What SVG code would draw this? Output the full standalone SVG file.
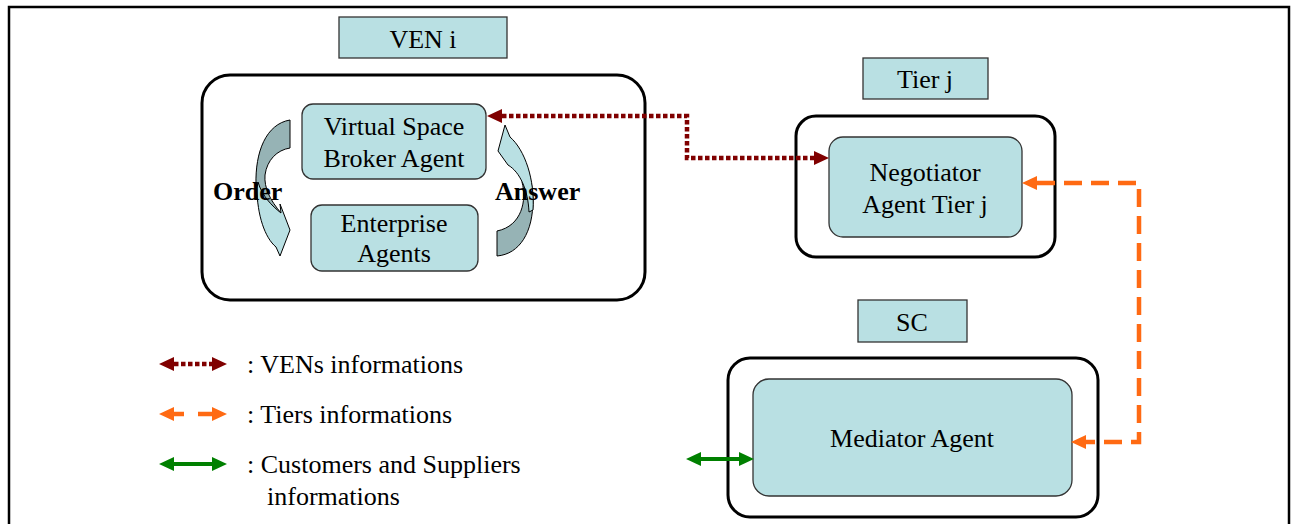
<svg xmlns="http://www.w3.org/2000/svg" width="1292" height="524" viewBox="0 0 1292 524">
<style>
text{font-family:"Liberation Serif","Times New Roman",serif;font-size:26px;fill:#000}
.c{text-anchor:middle}
.b{font-weight:bold}
.cont{fill:#fff;stroke:#000;stroke-width:3}
.box{fill:#b9e0e3;stroke:#333;stroke-width:1.3}
.lbl{fill:#b9e0e3;stroke:#333;stroke-width:1.3}
.dark{fill:#96b3b5;stroke:#000;stroke-width:1}
.light{fill:#b9e0e3;stroke:#000;stroke-width:1}
.ven{fill:none;stroke:#800000;stroke-width:4.5;stroke-dasharray:4.5 2.5}
.tier{fill:none;stroke:#ff6a13;stroke-width:4.5;stroke-dasharray:18 9}
.cs{fill:none;stroke:#008000;stroke-width:4}
</style>
<defs>
<marker id="mR" viewBox="0 0 15 14" refX="0" refY="7" markerWidth="15" markerHeight="14" markerUnits="userSpaceOnUse" orient="auto-start-reverse"><path d="M0,0 L15,7 L0,14 Z" fill="#800000"/></marker>
<marker id="mO" viewBox="0 0 15 14" refX="0" refY="7" markerWidth="15" markerHeight="14" markerUnits="userSpaceOnUse" orient="auto-start-reverse"><path d="M0,0 L15,7 L0,14 Z" fill="#ff6a13"/></marker>
<marker id="mG" viewBox="0 0 15 14" refX="0" refY="7" markerWidth="15" markerHeight="14" markerUnits="userSpaceOnUse" orient="auto-start-reverse"><path d="M0,0 L15,7 L0,14 Z" fill="#008000"/></marker>
</defs>
<rect x="0" y="0" width="1292" height="524" fill="#fff"/>
<rect x="9" y="7" width="1280" height="530" fill="none" stroke="#000" stroke-width="2.5"/>

<g id="ven-label"><rect class="lbl" x="339" y="17" width="168" height="41"/><text class="c" x="423" y="48">VEN i</text></g>
<g id="ven-container"><rect class="cont" x="202" y="75" width="443" height="225" rx="28"/></g>
<g id="order-arrow">
<path class="dark" d="M290,120 C266,124 255,152 256,185 C257,205 262,220 272,232 L281,213 C270,200 264,188 265,175 C267,160 277,150 290,148 Z"/>
<path class="light" d="M257,188 C257,215 265,238 276,247 L280,256 L290,230 L280,204 L281,213 C272,206 262,196 258,182 Z"/>
</g>
<g id="answer-arrow">
<path class="dark" d="M497,256 C520,254 533,232 533,200 C533,190 531,180 528,172 L522,182 C527,200 522,226 497,231 Z"/>
<path class="light" d="M533,210 C535,180 525,150 510,137 L505,125 L498,151 L508,165 C520,172 528,190 529,212 Z"/>
</g>
<g id="vsb"><rect class="box" x="302" y="104" width="184" height="75" rx="11"/><text class="c" x="394" y="135">Virtual Space</text><text class="c" x="394" y="167">Broker Agent</text></g>
<g id="enterprise"><rect class="box" x="311" y="205" width="167" height="66" rx="11"/><text class="c" x="394" y="232">Enterprise</text><text class="c" x="394" y="262">Agents</text></g>
<text class="b" x="213" y="200">Order</text>
<text class="b" x="495" y="200">Answer</text>

<g id="tier-label"><rect class="lbl" x="863" y="58" width="125" height="41"/><text class="c" x="925" y="88">Tier j</text></g>
<g id="tier-container"><rect class="cont" x="796" y="116" width="259" height="141" rx="20"/></g>
<g id="negotiator"><rect class="box" x="829" y="137" width="193" height="100" rx="14"/><text class="c" x="925" y="181">Negotiator</text><text class="c" x="925" y="213">Agent Tier j</text></g>

<g id="sc-label"><rect class="lbl" x="858" y="300" width="109" height="42"/><text class="c" x="912" y="331">SC</text></g>
<g id="sc-container"><rect class="cont" x="728" y="358" width="370" height="159" rx="22"/></g>
<g id="mediator"><rect class="box" x="753" y="379" width="319" height="117" rx="16"/><text class="c" x="912" y="447">Mediator Agent</text></g>

<g id="connectors">
<path class="ven" d="M502,116 H687 V158 H814" marker-start="url(#mR)" marker-end="url(#mR)"/>
<path class="tier" d="M1037,183 H1139 V442 H1086" marker-start="url(#mO)" marker-end="url(#mO)"/>
<path class="cs" d="M701,459 H739" marker-start="url(#mG)" marker-end="url(#mG)"/>
</g>

<g id="legend">
<path class="ven" d="M174,364 H212" marker-start="url(#mR)" marker-end="url(#mR)"/>
<text x="247" y="373">: VENs informations</text>
<path d="M174,414 H184" stroke="#ff6a13" stroke-width="4.5" fill="none" marker-start="url(#mO)"/>
<path d="M198,414 H212" stroke="#ff6a13" stroke-width="4.5" fill="none" marker-end="url(#mO)"/>
<text x="247" y="423">: Tiers informations</text>
<path class="cs" d="M174,464 H212" marker-start="url(#mG)" marker-end="url(#mG)"/>
<text x="247" y="473">: Customers and Suppliers</text>
<text x="267" y="505">informations</text>
</g>
</svg>
